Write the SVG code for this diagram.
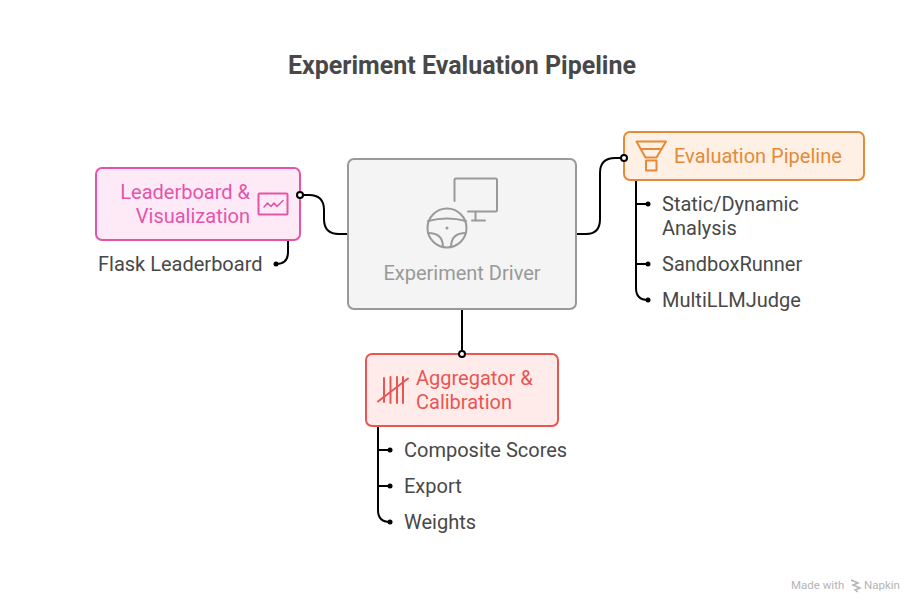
<svg xmlns="http://www.w3.org/2000/svg" width="924" height="612" viewBox="0 0 924 612">
<style>
text{font-family:Roboto,"Liberation Sans",sans-serif;font-size:20px}
.item{fill:#484848}
.c{fill:none;stroke:#000;stroke-width:2}
.d{fill:#000}
.o{fill:#fff;stroke:#000;stroke-width:2}
.ic{fill:none;stroke-width:2;stroke-linecap:round;stroke-linejoin:round}
</style>
<rect width="924" height="612" fill="#fff"/>
<text x="462" y="74" text-anchor="middle" style="font-size:25px;font-weight:700;fill:#484848">Experiment Evaluation Pipeline</text>
<g id="connectors">
<path class="c" d="M300 195H309Q324 195 324 210V219Q324 234 339 234H349"/>
<path class="c" d="M576 234H586Q600 234 600 219V173Q600 158 615 158H624"/>
<path class="c" d="M462 308V354"/>
<path class="c" d="M288 240V252Q288 264 276 264"/>
<path class="c" d="M636 180V288Q636 300 648 300M636 204H648M636 264H648"/>
<path class="c" d="M378 426V510Q378 522 390 522M378 450H390M378 486H390"/>
<circle class="d" cx="276" cy="264" r="2.500"/>
<circle class="d" cx="648" cy="204" r="2.500"/><circle class="d" cx="648" cy="264" r="2.500"/><circle class="d" cx="648" cy="300" r="2.500"/>
<circle class="d" cx="390" cy="450" r="2.500"/><circle class="d" cx="390" cy="486" r="2.500"/><circle class="d" cx="390" cy="522" r="2.500"/>
</g>
<g id="leaderboard">
<rect x="96" y="168" width="204" height="72" rx="6" fill="#feeaf7" stroke="#e554a9" stroke-width="2"/>
<text x="250" y="199" text-anchor="end" fill="#e554a9">Leaderboard &amp;</text>
<text x="250" y="223" text-anchor="end" fill="#e554a9">Visualization</text>
<g class="ic" stroke="#e554a9"><rect x="258.500" y="193.500" width="29" height="21" rx="1"/><path d="M264 207l3.500-4 3.500 3.500 3-3.500 3 3.500 6-6" stroke-width="1.600"/></g>
<circle class="o" cx="300" cy="195" r="3"/>
</g>
<text class="item" x="98" y="271">Flask Leaderboard</text>
<g id="driver">
<rect x="348" y="159" width="228" height="150" rx="6" fill="#f4f4f4" stroke="#999" stroke-width="2"/>
<g class="ic" stroke="#999"><path d="M454.500 201V180Q454.500 178.500 456 178.500H495.500Q497 178.500 497 180V210Q497 211.500 495.500 211.500H468M475.500 212V220M472 220.500H485"/>
<circle cx="447" cy="228" r="19.500"/><path d="M428 221Q447 216 466 221M428 233Q443 233 443 247M466 233Q451 233 451 247"/></g>
<circle cx="447" cy="228" r="1.500" fill="#999"/>
<text x="462" y="280" text-anchor="middle" fill="#999">Experiment Driver</text>
</g>
<g id="evaluation">
<rect x="624" y="132" width="240" height="48" rx="6" fill="#fef0e4" stroke="#e58a37" stroke-width="2"/>
<text x="674" y="163" fill="#e58a37">Evaluation Pipeline</text>
<g class="ic" stroke="#e58a37"><path d="M636.500 141.500H666L656.500 157.500H645.500Z"/><path d="M641.500 149H661"/><path d="M646 160.500H656.500V170.500H646Z"/></g>
<circle class="o" cx="624" cy="158" r="3"/>
</g>
<text class="item" x="662" y="211">Static/Dynamic</text>
<text class="item" x="662" y="235">Analysis</text>
<text class="item" x="662" y="271">SandboxRunner</text>
<text class="item" x="662" y="307">MultiLLMJudge</text>
<g id="aggregator">
<rect x="366" y="354" width="192" height="72" rx="6" fill="#ffebea" stroke="#e85654" stroke-width="2"/>
<text x="416" y="385" fill="#e85654">Aggregator &amp;</text>
<text x="416" y="409" fill="#e85654">Calibration</text>
<g class="ic" stroke="#e85654"><path d="M384 378V402M390.500 377V403M397 377V403M403 377V403M378 401.500L408 378.500"/></g>
<circle class="o" cx="462" cy="354" r="3"/>
</g>
<text class="item" x="404" y="457">Composite Scores</text>
<text class="item" x="404" y="493">Export</text>
<text class="item" x="404" y="529">Weights</text>
<g id="credit">
<text x="791" y="589" style="font-size:11.500px;fill:#b4b4b4">Made with</text>
<path d="M851 580l7 3-5 2 7 3-5 2 3 2" fill="none" stroke="#b4b4b4" stroke-width="1.500"/>
<text x="864" y="589" style="font-size:11.500px;fill:#b4b4b4">Napkin</text>
</g>
</svg>
